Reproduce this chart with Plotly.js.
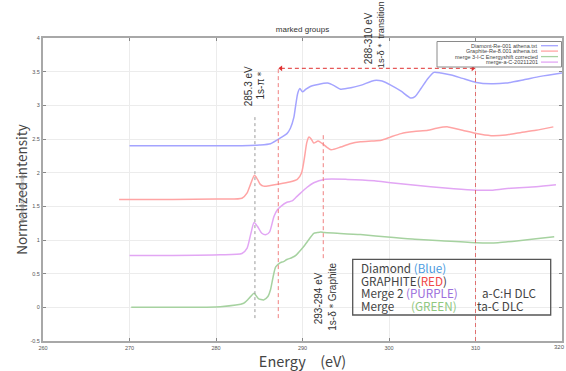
<!DOCTYPE html>
<html><head><meta charset="utf-8">
<script src="https://cdn.plot.ly/plotly-3.0.1.min.js"></script>
<style>html,body{margin:0;padding:0;background:#fff;overflow:hidden}#chart{width:566px;height:371px}</style>
</head><body><div id="chart"></div>
<script>
// Diamond (blue)
const diamondE = [270,275,280,283,285,286.3,287.5,288.2,288.6,289.0,289.2,289.45,289.7,290.0,290.4,290.9,291.8,292.9,293.7,294.4,295.6,296.8,298.3,299.2,300.2,301.4,302.5,303.0,303.7,304.5,305.2,306.0,307.2,308.5,310.1,311.8,313.5,315.6,317.5,320];
const diamondI = [2.40,2.40,2.40,2.40,2.41,2.43,2.52,2.58,2.66,2.82,2.99,3.18,3.25,3.20,3.24,3.28,3.31,3.33,3.29,3.24,3.26,3.30,3.37,3.36,3.30,3.21,3.11,3.13,3.25,3.40,3.49,3.48,3.45,3.40,3.34,3.32,3.33,3.38,3.43,3.48];
// Graphite (red)
const graphiteE = [268.8,275,280,283.0,283.6,284.0,284.45,284.8,285.1,285.5,286.3,287.3,288.5,289.4,289.9,290.2,290.5,290.75,291.0,291.3,291.8,292.3,292.8,293.3,294.4,295.5,296.7,298,299.1,300.2,301.4,302.9,304.5,305.5,306.8,308.5,310.1,311.8,313.5,314.9,317,319];
const graphiteI = [1.60,1.60,1.61,1.62,1.70,1.83,1.96,1.90,1.83,1.80,1.81,1.83,1.86,1.90,2.00,2.20,2.45,2.53,2.50,2.44,2.47,2.43,2.38,2.34,2.38,2.43,2.46,2.47,2.48,2.53,2.58,2.61,2.63,2.66,2.68,2.63,2.58,2.55,2.56,2.59,2.63,2.68];
// merge 3-I-C (green)
const greenE = [270.2,275,280.5,283.2,283.8,284.4,284.9,285.5,286.0,286.3,286.6,286.9,287.4,287.8,288.2,288.8,289.3,289.8,290.3,290.7,291.3,291.7,292.1,292.5,294.0,296.7,300.2,303,306,310.1,312.6,315,317,319.1];
const greenI = [0.00,0.00,0.01,0.06,0.13,0.21,0.13,0.11,0.16,0.26,0.45,0.60,0.66,0.68,0.71,0.74,0.78,0.85,0.93,1.00,1.10,1.11,1.12,1.11,1.10,1.08,1.04,1.01,0.99,0.96,0.96,0.99,1.02,1.05];
// merge-a-C (purple)
const purpleE = [270,275,280.5,283.0,283.6,284.0,284.4,284.8,285.3,285.8,286.2,286.7,287.1,287.5,288.2,288.8,289.3,289.8,290.5,291.3,292.5,295.2,298.3,300.2,302.5,304.8,307.5,310.1,312,314.1,317,319.3];
const purpleI = [0.77,0.77,0.78,0.80,0.88,1.08,1.26,1.20,1.10,1.08,1.12,1.35,1.45,1.50,1.56,1.58,1.64,1.70,1.78,1.85,1.90,1.90,1.88,1.85,1.82,1.79,1.76,1.74,1.74,1.77,1.79,1.82];

const seriesNames = ["Diamont-Re-001 athena.txt","Graphite-Re-8.001 athena.txt","merge 3-I-C Energyshift corrected","merge-a-C-20211201"];
const seriesColors = ["#a4a4ff","#ffa4a4","#a6d2a0","#e2a6f4"];
const xTicks = [260,270,280,290,300,310,320];
const yTicks = [-0.5,0,0.5,1,1.5,2,2.5,3,3.5,4];

// marker lines
const grayLineE = 284.5, grayLineY = [-0.16, 2.86];
const redLine1E = 287.2, redLine1Y = [-0.16, 3.55];
const redLine2E = 292.4, redLine2Y = [0.73, 2.56];
const redLine3E = 310.0, redLine3Y = [-0.5, 3.55];
const arrowE = [287.5, 309.7], arrowY = 3.55;

const L = 43, R = 562, T = 38, B = 341;
const px = v => (v - L) / (R - L);
const py = v => (B - v) / (B - T);

const dataSets = [[diamondE,diamondI],[graphiteE,graphiteI],[greenE,greenI],[purpleE,purpleI]];
const traces = dataSets.map((d,i)=>({
  x:d[0], y:d[1], type:'scatter', mode:'lines', name:seriesNames[i],
  line:{color:seriesColors[i], width:1.5, shape:'spline', smoothing:0.6}, showlegend:false, hoverinfo:'skip'
}));
traces.push({x:arrowE, y:[arrowY,arrowY], type:'scatter', mode:'markers',
  marker:{symbol:['triangle-left','triangle-right'], size:5, color:'#e03030'}, showlegend:false, hoverinfo:'skip'});

const shapes = [];
const vline = (x,y,c,dash)=>shapes.push({type:'line',xref:'x',yref:'y',x0:x,x1:x,y0:y[0],y1:y[1],line:{color:c,width:1,dash:dash}});
vline(grayLineE, grayLineY, '#9a9a9a', '3px,3px');
vline(redLine1E, redLine1Y, '#f08080', '4px,3px');
vline(redLine2E, redLine2Y, '#f08080', '4px,3px');
vline(redLine3E, redLine3Y, '#e07070', '4px,3px');
shapes.push({type:'line',xref:'x',yref:'y',x0:arrowE[0],x1:arrowE[1],y0:arrowY,y1:arrowY,line:{color:'#e03030',width:1,dash:'4px,3px'}});

// small legend box
shapes.push({type:'rect',xref:'paper',yref:'paper',x0:px(437),x1:px(561.5),y0:py(67),y1:py(41.5),line:{color:'#8a8a8a',width:1},fillcolor:'#ffffff',layer:'above'});
const legY = [45.7,51.1,56.6,62.1];
const annotations = [];
[0,1,2,3].forEach((k,i)=>{
  shapes.push({type:'line',xref:'paper',yref:'paper',x0:px(541),x1:px(558),y0:py(legY[i]),y1:py(legY[i]),line:{color:seriesColors[k],width:1.3},layer:'above'});
  annotations.push({xref:'paper',yref:'paper',x:px(539),y:py(legY[i]),xanchor:'right',yanchor:'middle',showarrow:false,
    text:seriesNames[k],font:{family:'Liberation Sans, Arial',size:5.5,color:'#444'},borderpad:0});
});

// big description box
shapes.push({type:'rect',xref:'paper',yref:'paper',x0:px(352.7),x1:px(550.7),y0:py(315),y1:py(259.3),line:{color:'#555',width:1.3},fillcolor:'rgba(255,255,255,0)',layer:'above'});
const bf = {family:'Noto Sans CJK JP',size:11.7,color:'#444'};
const boxLine = (x,y,t)=>annotations.push({xref:'paper',yref:'paper',x:px(x),y:py(y),xanchor:'left',yanchor:'middle',showarrow:false,text:t,font:bf,borderpad:0});
boxLine(360,267.3,'Diamond <span style="color:#4a9be0">(Blue)</span>');
boxLine(360,280,'GRAPHITE(<span style="color:#f04848">RED</span>)');
boxLine(360,292.7,'Merge 2 <span style="color:#9c70dc">(PURPLE)</span>');
boxLine(480.5,292.7,'a-C:H DLC');
boxLine(360,305,'Merge');
boxLine(410,305,'<span style="color:#90c880">(GREEN)</span>');
boxLine(476,305,'ta-C DLC');

// rotated labels
const rot = (x,y,t,s)=>annotations.push({xref:'paper',yref:'paper',x:px(x),y:py(y),xanchor:'center',yanchor:'middle',showarrow:false,textangle:-90,text:t,
  font:{family:'Liberation Sans, Arial',size:s||10,color:'#333'},borderpad:0});
rot(248.3,86,'285.3 eV');
rot(260.5,84,'1s-π＊');
rot(368.3,38,'288-310 eV');
rot(381.7,34.5,'1s-δ＊ transition',9.2);
rot(318.3,298,'293-294 eV');
rot(331.7,297,'1s-δ＊Graphite');
// faint overlapped small label
annotations.push({xref:'paper',yref:'paper',x:px(22),y:py(198),xanchor:'center',yanchor:'middle',showarrow:false,textangle:-90,
  text:'Normalized intensity',font:{family:'Liberation Sans, Arial',size:5.5,color:'#888'}});
// last x tick label (at the very right edge)
annotations.push({xref:'paper',yref:'paper',x:px(565.5),y:py(346.5),xanchor:'right',yanchor:'middle',showarrow:false,
  text:String(xTicks[xTicks.length-1]),font:{family:'Liberation Sans, Arial',size:6,color:'#555'},borderpad:0});

const axisCommon = {showgrid:true, gridcolor:'#ececec', gridwidth:1, zeroline:false, showline:true, linecolor:'#a8a8a8', linewidth:2,
  mirror:'allticks', ticks:'inside', ticklen:3, tickcolor:'#888', ticklabeloverflow:'allow',
  tickfont:{family:'Liberation Sans, Arial', size:5.5, color:'#555'}};

const layout = {
  width:566, height:371,
  margin:{l:L, r:566-R, t:T, b:371-B},
  paper_bgcolor:'#fff', plot_bgcolor:'#fff',
  showlegend:false,
  title:{text:'marked groups', font:{family:'Liberation Sans, Arial', size:8, color:'#333'}, x:302.5/566, xanchor:'center', y:1-29/371, yanchor:'middle'},
  xaxis:Object.assign({range:[260,320], tickvals:xTicks, ticktext:xTicks.slice(0,-1).map(String).concat(['']),
    title:{text:'Energy　(eV)', font:{family:'Noto Sans CJK JP', size:14.5, color:'#444'}, standoff:1}}, axisCommon),
  yaxis:Object.assign({range:[-0.5,4], tickvals:yTicks, ticktext:yTicks.map(String),
    title:{text:'Normalized intensity', font:{family:'Noto Sans CJK JP', size:13.5, color:'#444'}, standoff:0}}, axisCommon),
  shapes:shapes, annotations:annotations
};
Plotly.newPlot('chart', traces, layout, {staticPlot:true, displayModeBar:false});
</script></body></html>
